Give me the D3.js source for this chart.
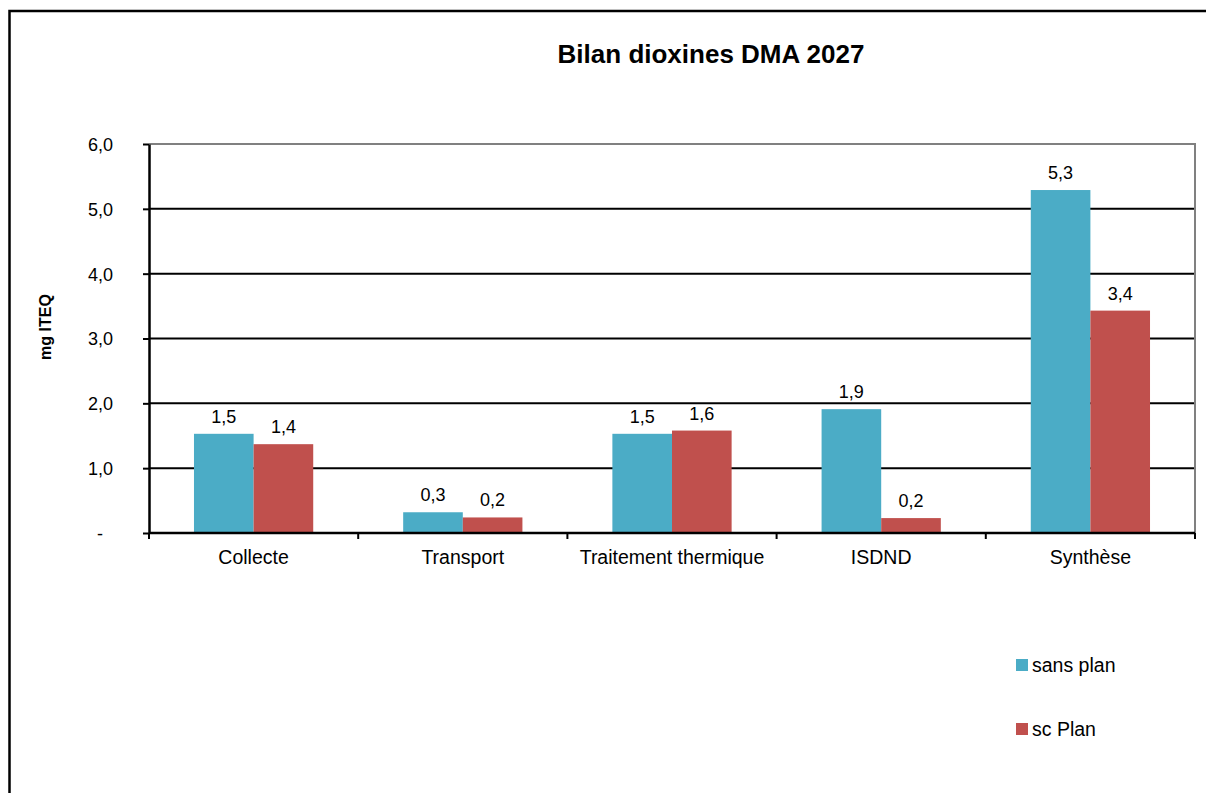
<!DOCTYPE html>
<html>
<head>
<meta charset="utf-8">
<script src="https://cdn.jsdelivr.net/npm/d3@7"></script>
<style>
  html, body { margin: 0; padding: 0; background: #fff; }
  svg { display: block; font-family: "Liberation Sans", Arial, sans-serif; }
</style>
</head>
<body>
<svg id="chart" width="1206" height="793"></svg>
<script>
// Dioxin balance per stage, household waste 2027 (mg ITEQ)
const categories = ["Collecte", "Transport", "Traitement thermique", "ISDND", "Synthèse"];
const seriesNames = ["sans plan", "sc Plan"];
const sansPlan = [1.53, 0.32, 1.53, 1.91, 5.29];
const scPlan = [1.37, 0.24, 1.58, 0.23, 3.43];
const yTicks = [0, 1, 2, 3, 4, 5, 6];
const colors = ["#4BACC6", "#C0504D"];

const svg = d3.select("#chart");

// outer chart frame (runs past the right and bottom edges)
svg.append("rect")
  .attr("x", 9.5).attr("y", 11)
  .attr("width", 1400).attr("height", 1000)
  .attr("fill", "none").attr("stroke", "#000").attr("stroke-width", 2.5);

const plotLeft = 149, plotRight = 1195, plotTop = 144, plotBottom = 533;

const x0 = d3.scaleBand().domain(categories).range([plotLeft, plotRight])
  .paddingInner(0.43).paddingOuter(0.215);
const x1 = d3.scaleBand().domain(seriesNames).range([0, x0.bandwidth()]);
const y = d3.scaleLinear().domain([0, 6]).range([plotBottom, plotTop]);

const fmt = v => v === 0 ? "-" : v.toFixed(1).replace(".", ",");

// horizontal gridlines
svg.append("g")
  .selectAll("line")
  .data(yTicks.filter(t => t > 0 && t < 6))
  .join("line")
  .attr("x1", plotLeft).attr("x2", plotRight)
  .attr("y1", d => y(d)).attr("y2", d => y(d))
  .attr("stroke", "#000").attr("stroke-width", 2);

// plot area border (top and right)
svg.append("path")
  .attr("d", `M${plotLeft},${y(6)}H${plotRight}V${plotBottom}`)
  .attr("fill", "none").attr("stroke", "#808080").attr("stroke-width", 2);

// bars
const rows = categories.map((c, i) => ({ cat: c, values: [sansPlan[i], scPlan[i]] }));
const groups = svg.append("g").selectAll("g")
  .data(rows).join("g")
  .attr("transform", d => `translate(${x0(d.cat)},0)`);

groups.selectAll("rect")
  .data(d => d.values.map((v, j) => ({ name: seriesNames[j], v, j })))
  .join("rect")
  .attr("x", d => x1(d.name))
  .attr("width", x1.bandwidth())
  .attr("y", d => y(d.v))
  .attr("height", d => y(0) - y(d.v))
  .attr("fill", d => colors[d.j]);

// value labels
groups.selectAll("text")
  .data(d => d.values.map((v, j) => ({ name: seriesNames[j], v, j })))
  .join("text")
  .attr("x", d => x1(d.name) + x1.bandwidth() / 2)
  .attr("y", d => y(d.v) - 11)
  .attr("text-anchor", "middle")
  .attr("font-size", 18)
  .attr("fill", "#000")
  .text(d => fmt(d.v));

// y axis
const yAxis = svg.append("g")
  .attr("transform", `translate(${plotLeft},0)`)
  .call(d3.axisLeft(y).tickValues(yTicks).tickFormat(fmt).tickSize(6).tickSizeOuter(0));
yAxis.select(".domain").attr("stroke", "#000").attr("stroke-width", 2.5);
yAxis.selectAll(".tick line").attr("stroke", "#000").attr("stroke-width", 2);
yAxis.selectAll(".tick text")
  .attr("font-family", "Liberation Sans, Arial, sans-serif")
  .attr("font-size", 18).attr("fill", "#000")
  .attr("x", -36).attr("dy", "0.36em");
yAxis.selectAll(".tick").filter(d => d === 0).select("text").attr("x", -46);

// x axis
svg.append("line")
  .attr("x1", plotLeft).attr("x2", plotRight)
  .attr("y1", plotBottom).attr("y2", plotBottom)
  .attr("stroke", "#000").attr("stroke-width", 2.5);
const step = x0.step();
const boundaries = d3.range(categories.length + 1).map(i => plotLeft + i * step);
svg.append("g").selectAll("line")
  .data(boundaries).join("line")
  .attr("x1", d => d).attr("x2", d => d)
  .attr("y1", plotBottom).attr("y2", plotBottom + 6)
  .attr("stroke", "#000").attr("stroke-width", 2);
svg.append("g").selectAll("text")
  .data(categories).join("text")
  .attr("x", d => x0(d) + x0.bandwidth() / 2)
  .attr("y", 564)
  .attr("text-anchor", "middle")
  .attr("font-size", 19.5)
  .attr("fill", "#000")
  .text(d => d);

// title
svg.append("text")
  .attr("x", 711).attr("y", 63)
  .attr("text-anchor", "middle")
  .attr("font-size", 26).attr("font-weight", "bold")
  .text("Bilan dioxines DMA 2027");

// y axis title
svg.append("text")
  .attr("transform", "translate(51,327) rotate(-90)")
  .attr("text-anchor", "middle")
  .attr("font-size", 16).attr("font-weight", "bold")
  .text("mg ITEQ");

// legend
const legend = svg.append("g").selectAll("g")
  .data(seriesNames).join("g")
  .attr("transform", (d, i) => `translate(1016,${659 + i * 64})`);
legend.append("rect")
  .attr("width", 12).attr("height", 12)
  .attr("fill", (d, i) => colors[i]);
legend.append("text")
  .attr("x", 16).attr("y", 13)
  .attr("font-size", 19.5)
  .attr("fill", "#000")
  .text(d => d);
</script>
</body>
</html>
